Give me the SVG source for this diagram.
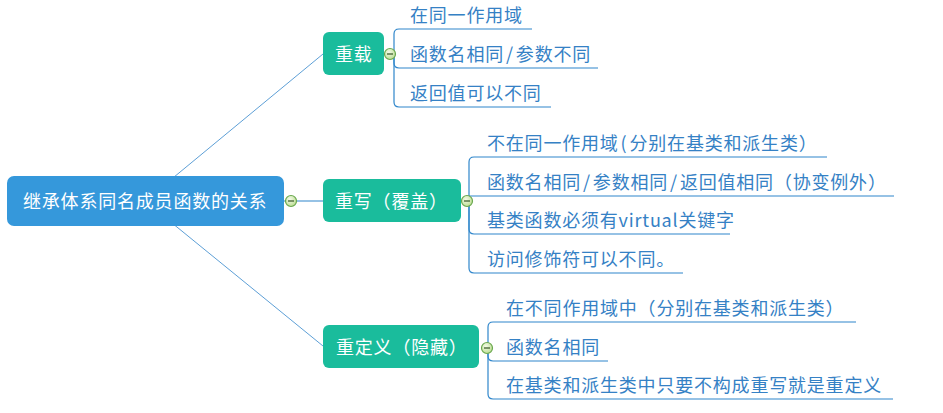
<svg xmlns="http://www.w3.org/2000/svg" width="943" height="413" viewBox="0 0 943 413">
<defs>
<radialGradient id="cg" cx="0.4" cy="0.35" r="0.7">
<stop offset="0" stop-color="#f4fbe8"/>
<stop offset="1" stop-color="#b9dc8e"/>
</radialGradient>
<style>
.root{fill:#3598db}
.topic{fill:#1abc9c}
.nt{font-family:"Noto Sans CJK SC","Noto Sans",sans-serif;font-size:18px;letter-spacing:0.8px;fill:#ffffff}
.ct{font-family:"Noto Sans CJK SC","Noto Sans",sans-serif;font-size:18px;letter-spacing:0.8px;fill:#3581c5}
.ln{fill:none;stroke:#5d9fd6;stroke-width:1}
.br{fill:none;stroke:#2f86cb;stroke-width:1.2}
.cc{fill:url(#cg);stroke:#6aa84f;stroke-width:1.2}
.cm{stroke:#4d6b3c;stroke-width:1.4}
</style>
</defs>
<rect width="943" height="413" fill="#ffffff"/>
<g id="connectors">
<line class="ln" x1="145" y1="201" x2="323" y2="54"/>
<line class="ln" x1="145" y1="201" x2="323" y2="346"/>
<line class="br" x1="284" y1="201" x2="323" y2="201"/>
<path class="br" d="M394,54 V34 Q394,29 399,29 H532"/>
<path class="br" d="M394,54 V63 Q394,68 399,68 H598"/>
<path class="br" d="M394,54 V102 Q394,107 399,107 H551"/>
<path class="br" d="M469,201 V162 Q469,157 474,157 H827"/>
<path class="br" d="M469,201 V196 H894"/>
<path class="br" d="M469,201 V229 Q469,234 474,234 H730"/>
<path class="br" d="M469,201 V268 Q469,273 474,273 H683"/>
<path class="br" d="M488,348 V327 Q488,322 493,322 H856"/>
<path class="br" d="M488,348 V356 Q488,361 493,361 H608"/>
<path class="br" d="M488,348 V394 Q488,399 493,399 H893"/>
</g>
<g id="root">
<rect class="root" x="7" y="176" width="277" height="50" rx="7"/>
<text class="nt" x="23" y="208">继承体系同名成员函数的关系</text>
<circle class="cc" cx="291" cy="201" r="5.5"/>
<line class="cm" x1="288" y1="201" x2="294" y2="201"/>
</g>
<g id="overload">
<rect class="topic" x="323" y="32" width="61" height="43" rx="6"/>
<text class="nt" x="335" y="61">重载</text>
<circle class="cc" cx="390" cy="54" r="5.5"/>
<line class="cm" x1="387" y1="54" x2="393" y2="54"/>
</g>
<g id="overload-1"><text class="ct" x="410" y="22">在同一作用域</text></g>
<g id="overload-2"><text class="ct" x="410" y="61">函数名相同<tspan dx="2">/</tspan><tspan dx="2">参数不同</tspan></text></g>
<g id="overload-3"><text class="ct" x="410" y="100">返回值可以不同</text></g>
<g id="override">
<rect class="topic" x="323" y="179" width="138" height="43" rx="6"/>
<text class="nt" x="335" y="208">重写（覆盖）</text>
<circle class="cc" cx="467" cy="201" r="5.5"/>
<line class="cm" x1="464" y1="201" x2="470" y2="201"/>
</g>
<g id="override-1"><text class="ct" x="487" y="150">不在同一作用域<tspan dx="2">(</tspan><tspan dx="2">分别在基类和派生类）</tspan></text></g>
<g id="override-2"><text class="ct" x="487" y="189">函数名相同<tspan dx="2">/</tspan><tspan dx="2">参数相同</tspan><tspan dx="2">/</tspan><tspan dx="2">返回值相同（协变例外）</tspan></text></g>
<g id="override-3"><text class="ct" x="487" y="227">基类函数必须有virtual关键字</text></g>
<g id="override-4"><text class="ct" x="487" y="266">访问修饰符可以不同。</text></g>
<g id="redefine">
<rect class="topic" x="323" y="325" width="156" height="43" rx="6"/>
<text class="nt" x="336" y="354">重定义（隐藏）</text>
<circle class="cc" cx="487" cy="348" r="5.5"/>
<line class="cm" x1="484" y1="348" x2="490" y2="348"/>
</g>
<g id="redefine-1"><text class="ct" x="506" y="315">在不同作用域中（分别在基类和派生类）</text></g>
<g id="redefine-2"><text class="ct" x="506" y="354">函数名相同</text></g>
<g id="redefine-3"><text class="ct" x="506" y="392">在基类和派生类中只要不构成重写就是重定义</text></g>
</svg>
